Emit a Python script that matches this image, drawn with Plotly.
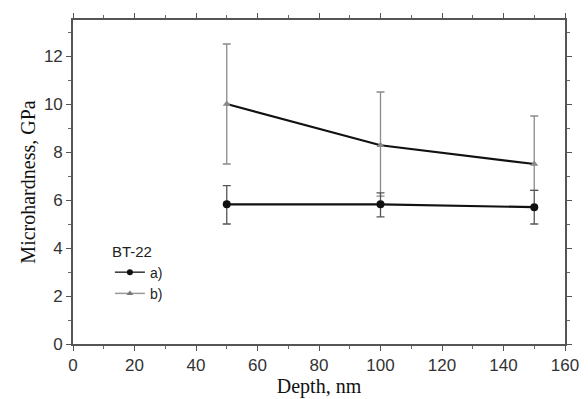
import plotly.graph_objects as go

depth = [50, 100, 150]
hard_a = [5.82, 5.82, 5.7]
err_a_plus = [0.78, 0.48, 0.7]
err_a_minus = [0.82, 0.52, 0.7]
hard_b = [10.0, 8.28, 7.5]
err_b_plus = [2.5, 2.22, 2.0]
err_b_minus = [2.5, 2.12, 1.1]

legend_title = "BT-22"
names = ["a)", "b)"]

fig = go.Figure()

# b) series (grey error bars, black line, grey triangles)
fig.add_trace(go.Scatter(
    x=depth, y=hard_b, mode="lines+markers", showlegend=False,
    line=dict(color="#111111", width=2.2),
    marker=dict(symbol="triangle-up", size=7, color="#888888"),
    error_y=dict(type="data", symmetric=False, array=err_b_plus, arrayminus=err_b_minus,
                 color="#8a8a8a", thickness=1.3, width=4),
))
# a) series
fig.add_trace(go.Scatter(
    x=depth, y=hard_a, mode="lines+markers", showlegend=False,
    line=dict(color="#111111", width=2.2),
    marker=dict(symbol="circle", size=8, color="#111111"),
    error_y=dict(type="data", symmetric=False, array=err_a_plus, arrayminus=err_a_minus,
                 color="#555555", thickness=1.3, width=4),
))
# legend entries
fig.add_trace(go.Scatter(
    x=[None], y=[None], mode="lines+markers", name=names[0],
    line=dict(color="#333333", width=1.5),
    marker=dict(symbol="circle", size=6, color="#111111"),
))
fig.add_trace(go.Scatter(
    x=[None], y=[None], mode="lines+markers", name=names[1],
    line=dict(color="#999999", width=1.5),
    marker=dict(symbol="triangle-up", size=6, color="#777777"),
))

tick_font = dict(family="Liberation Sans, Arial, sans-serif", size=17, color="#333333")
title_font = dict(family="Liberation Serif, Times New Roman, serif", size=20, color="#111111")

axis_common = dict(
    showline=True, linecolor="#555555", linewidth=1.6, mirror="allticks",
    ticks="outside", ticklen=5, tickwidth=1.2, tickcolor="#555555",
    showgrid=False, zeroline=False, automargin=False,
    tickfont=tick_font,
)

fig.update_xaxes(
    range=[0, 160], tickmode="linear", tick0=0, dtick=20,
    title=dict(text="Depth, nm", standoff=2, font=title_font),
    minor=dict(ticks="outside", ticklen=3, tickwidth=1.2, tickcolor="#666666", dtick=10),
    **axis_common,
)
fig.update_yaxes(
    range=[0, 13.5], tickmode="linear", tick0=0, dtick=2,
    title=dict(text="Microhardness, GPa", standoff=3, font=title_font),
    minor=dict(ticks="outside", ticklen=3, tickwidth=1.2, tickcolor="#666666", dtick=1),
    **axis_common,
)

fig.update_layout(
    width=580, height=391,
    margin=dict(l=65, r=23, t=12, b=55),
    paper_bgcolor="white", plot_bgcolor="white",
    showlegend=True,
    legend=dict(
        x=0.075, y=0.33, xanchor="left", yanchor="top",
        title=dict(text=legend_title, font=dict(family="Liberation Sans, Arial, sans-serif", size=15, color="#222222")),
        font=dict(family="Liberation Sans, Arial, sans-serif", size=14, color="#222222"),
        bgcolor="rgba(0,0,0,0)", tracegroupgap=0, itemwidth=30,
    ),
)

fig.write_html("out.html")
